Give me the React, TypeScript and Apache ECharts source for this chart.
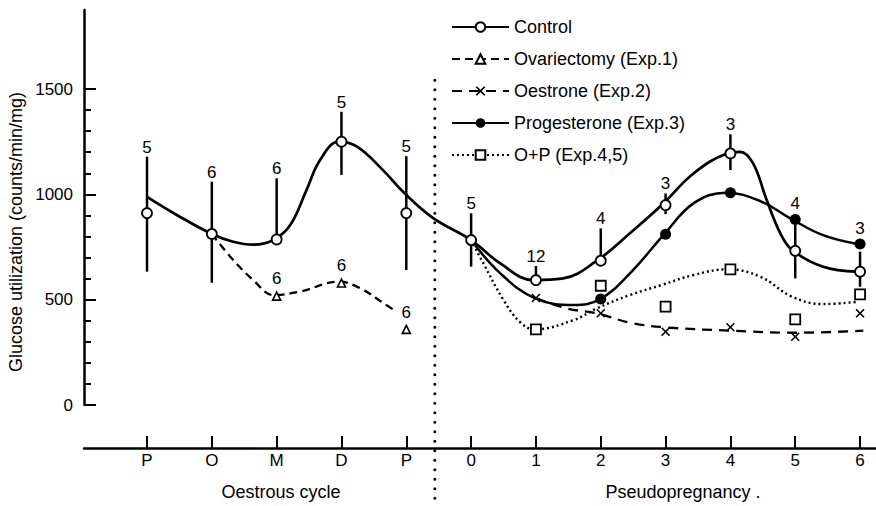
import React, { useEffect, useRef } from "react";
import * as echarts from "echarts";

const FONT = "Liberation Sans";

// Axis ticks / labels
const xTickValues = [0, 1, 2, 3, 4, 5, 6, 7, 8, 9, 10, 11];
const xTickLabels = ["P", "O", "M", "D", "P", "0", "1", "2", "3", "4", "5", "6"];
const yMajorTicks = [0, 500, 1000, 1500];
const yMinorTicks = [100, 200, 300, 400, 600, 700, 800, 900, 1100, 1200, 1300, 1400];
const groupLabels = ["Oestrous cycle", "Pseudopregnancy ."];

// Control (means, error bars, sample sizes)
const controlMean = [911, 812, 786, 1250, 911, 783, 593, 685, 949, 1194, 732, 633];
const controlLow = [633, 580, 786, 1092, 641, 657, 593, 685, 906, 1115, 601, 561];
const controlHigh = [1179, 1060, 1076, 1392, 1181, 910, 660, 838, 1004, 1285, 870, 728];
const controlN = [5, 6, 6, 5, 5, 5, 12, 4, 3, 3, 4, 3];
// hand-fitted control curve
const controlCurveX = [0, 0.46, 1, 1.33, 1.64, 1.95, 2.21, 2.46, 2.67, 2.96, 3.24, 3.64, 3.95, 4.41, 5, 5.45, 5.96, 6.42, 6.94, 7.45, 7.94, 8.43, 8.95, 9.15, 9.35, 9.56, 9.77, 9.95, 10.43, 10.95];
const controlCurveY = [988, 902, 812, 775, 761, 783, 854, 1020, 1163, 1250, 1226, 1115, 1012, 888, 783, 672, 593, 601, 685, 815, 949, 1099, 1194, 1202, 1147, 973, 815, 736, 656, 633];

// Ovariectomy (Exp.1)
const ovxX = [2, 3, 4];
const ovxMean = [517, 579, 359];
const ovxN = [6, 6, 6];
const ovxCurveX = [1, 1.33, 1.64, 1.95, 2.36, 2.96, 3.29, 3.65, 3.85];
const ovxCurveY = [812, 688, 593, 522, 538, 585, 554, 483, 443];

// Oestrone (Exp.2)
const oesX = [6, 7, 8, 9, 10, 11];
const oesMean = [508, 435, 348, 369, 324, 435];
const oesCurveX = [6, 6.47, 6.94, 7.45, 7.99, 8.99, 10.02, 11.05];
const oesCurveY = [508, 459, 435, 391, 369, 353, 343, 353];

// Progesterone (Exp.3)
const progX = [7, 8, 9, 10, 11];
const progMean = [503, 811, 1008, 881, 764];
const progCurveX = [5, 5.45, 5.99, 6.58, 6.99, 7.45, 7.98, 8.43, 8.93, 9.46, 9.95, 10.43, 10.96];
const progCurveY = [783, 625, 506, 475, 503, 625, 811, 957, 1008, 968, 881, 806, 764];

// O+P (Exp.4,5)
const opX = [6, 7, 8, 9, 10, 11];
const opMean = [359, 566, 467, 644, 406, 525];
const opCurveX = [5, 5.19, 5.5, 5.75, 5.98, 6.58, 6.94, 7.45, 7.94, 8.43, 8.95, 9.46, 9.95, 10.43, 10.96];
const opCurveY = [783, 672, 498, 395, 359, 403, 459, 522, 570, 617, 644, 609, 514, 479, 490];

// divider between oestrous cycle and pseudopregnancy
const dividerX = 4.44;
const dividerTop = 1542;

const names = ["Control", "Ovariectomy (Exp.1)", "Oestrone (Exp.2)", "Progesterone (Exp.3)", "O+P (Exp.4,5)"];

const X_SYMBOL = "path://M0,1.2L1.2,0L5,3.8L8.8,0L10,1.2L6.2,5L10,8.8L8.8,10L5,6.2L1.2,10L0,8.8L3.8,5Z";

const zip = (xs: number[], ys: number[]) => xs.map((x, i) => [x, ys[i]]);

export default function App() {
  const ref = useRef<HTMLDivElement>(null);
  useEffect(() => {
    if (!ref.current) return;
    const chart = echarts.init(ref.current, undefined, { renderer: "svg" });
    const progAt = (x: number) => {
      const i = progX.indexOf(x);
      return i >= 0 ? progMean[i] : null;
    };
    const errData = xTickValues.map((x, i) => [x, controlLow[i], controlHigh[i], controlN[i]]);

    const option: any = {
      animation: false,
      backgroundColor: "#fff",
      textStyle: { fontFamily: FONT, color: "#000" },
      grid: { left: 84, right: 0, top: 10, bottom: 101, containLabel: false },
      legend: {
        data: names,
        orient: "vertical",
        left: 451,
        top: 18,
        padding: 0,
        itemWidth: 57,
        itemHeight: 12,
        itemGap: 14,
        textStyle: { fontSize: 18, fontFamily: FONT, color: "#000" },
        selectedMode: false,
      },
      xAxis: {
        type: "value",
        min: -0.972,
        max: 11.246,
        offset: 43,
        splitLine: { show: false },
        axisLine: { show: true, onZero: false, lineStyle: { color: "#000", width: 2.5 } },
        axisTick: { show: true, inside: true, length: 12, customValues: xTickValues, lineStyle: { color: "#000", width: 2 } },
        axisLabel: {
          show: true,
          customValues: xTickValues,
          margin: 4,
          fontSize: 17,
          fontFamily: FONT,
          color: "#000",
          formatter: (v: number) => xTickLabels[Math.round(v)] ?? "",
        },
      },
      yAxis: [
        {
          type: "value",
          min: 0,
          max: 1875,
          splitLine: { show: false },
          axisLine: { show: true, onZero: false, lineStyle: { color: "#000", width: 2.5 } },
          axisTick: { show: true, inside: true, length: 12, customValues: yMajorTicks, lineStyle: { color: "#000", width: 2 } },
          axisLabel: {
            show: true,
            customValues: yMajorTicks,
            margin: 11,
            fontSize: 17,
            fontFamily: FONT,
            color: "#000",
            formatter: (v: number) => String(v),
          },
        },
        {
          type: "value",
          min: 0,
          max: 1875,
          position: "left",
          splitLine: { show: false },
          axisLine: { show: false, onZero: false },
          axisTick: { show: true, inside: true, length: 7, customValues: yMinorTicks, lineStyle: { color: "#000", width: 2 } },
          axisLabel: { show: false },
        },
      ],
      graphic: [
        {
          type: "text",
          x: 16,
          y: 232,
          rotation: Math.PI / 2,
          style: { text: "Glucose utilization (counts/min/mg)", align: "center", verticalAlign: "middle", fontSize: 18, fontFamily: FONT, fill: "#000" },
        },
        {
          type: "text",
          x: 281,
          y: 492,
          style: { text: groupLabels[0], align: "center", verticalAlign: "middle", fontSize: 18, fontFamily: FONT, fill: "#000" },
        },
        {
          type: "text",
          x: 683,
          y: 492,
          style: { text: groupLabels[1], align: "center", verticalAlign: "middle", fontSize: 18, fontFamily: FONT, fill: "#000" },
        },
      ],
      series: [
        // divider
        {
          type: "custom",
          name: "divider",
          silent: true,
          clip: false,
          data: [[dividerX, dividerTop]],
          renderItem: (params: any, api: any) => {
            const p = api.coord([api.value(0), api.value(1)]);
            return {
              type: "line",
              shape: { x1: p[0], y1: p[1], x2: p[0], y2: api.getHeight() },
              style: { stroke: "#000", lineWidth: 3, lineDash: [0.1, 9.4], lineCap: "round" },
            };
          },
          z: 1,
        },
        // control error bars + n labels
        {
          type: "custom",
          name: "errors",
          clip: false,
          data: errData,
          renderItem: (params: any, api: any) => {
            const x = api.value(0);
            const lo = api.coord([x, api.value(1)]);
            const hi = api.coord([x, api.value(2)]);
            let top = hi[1];
            const pv = progAt(x);
            if (pv != null) top = Math.min(top, api.coord([x, pv])[1] - 6);
            return {
              type: "group",
              children: [
                { type: "line", shape: { x1: lo[0], y1: lo[1], x2: hi[0], y2: hi[1] }, style: { stroke: "#000", lineWidth: 2.5 } },
                {
                  type: "text",
                  style: { text: String(api.value(3)), x: hi[0], y: top - 1, align: "center", verticalAlign: "bottom", fontSize: 17, fontFamily: FONT, fill: "#000" },
                },
              ],
            };
          },
          z: 2,
        },
        // curves
        {
          type: "line",
          name: names[0],
          data: zip(controlCurveX, controlCurveY),
          smooth: 0.4,
          showSymbol: false,
          symbol: "circle",
          itemStyle: { color: "#fff", borderColor: "#000", borderWidth: 2 },
          lineStyle: { color: "#000", width: 2.7 },
          z: 3,
        },
        {
          type: "line",
          name: names[1],
          data: zip(ovxCurveX, ovxCurveY),
          smooth: 0.4,
          showSymbol: false,
          symbol: "triangle",
          itemStyle: { color: "#fff", borderColor: "#000", borderWidth: 1.5 },
          lineStyle: { color: "#000", width: 2.3, type: [8, 5] },
          z: 3,
        },
        {
          type: "line",
          name: names[2],
          data: zip(oesCurveX, oesCurveY),
          smooth: 0.4,
          showSymbol: false,
          symbol: X_SYMBOL,
          itemStyle: { color: "#000" },
          lineStyle: { color: "#000", width: 2.3, type: [10, 7] },
          z: 3,
        },
        {
          type: "line",
          name: names[3],
          data: zip(progCurveX, progCurveY),
          smooth: 0.4,
          showSymbol: false,
          symbol: "circle",
          itemStyle: { color: "#000" },
          lineStyle: { color: "#000", width: 2.5 },
          z: 3,
        },
        {
          type: "line",
          name: names[4],
          data: zip(opCurveX, opCurveY),
          smooth: 0.4,
          showSymbol: false,
          symbol: "rect",
          itemStyle: { color: "#fff", borderColor: "#000", borderWidth: 1.8 },
          lineStyle: { color: "#000", width: 2.4, type: [2, 3] },
          z: 3,
        },
        // markers
        {
          type: "scatter",
          name: "control-pts",
          data: zip(xTickValues, controlMean),
          symbol: "circle",
          symbolSize: 10,
          itemStyle: { color: "#fff", borderColor: "#000", borderWidth: 1.8, opacity: 1 },
          z: 5,
        },
        {
          type: "scatter",
          name: "ovx-pts",
          data: zip(ovxX, ovxMean),
          symbol: "triangle",
          symbolSize: 8,
          itemStyle: { color: "#fff", borderColor: "#000", borderWidth: 1.6, opacity: 1 },
          label: {
            show: true,
            position: "top",
            distance: 4,
            fontSize: 17,
            fontFamily: FONT,
            color: "#000",
            formatter: (p: any) => String(ovxN[p.dataIndex]),
          },
          z: 5,
        },
        {
          type: "scatter",
          name: "oes-pts",
          data: zip(oesX, oesMean),
          symbol: X_SYMBOL,
          symbolSize: 9,
          itemStyle: { color: "#000", opacity: 1 },
          z: 5,
        },
        {
          type: "scatter",
          name: "prog-pts",
          data: zip(progX, progMean),
          symbol: "circle",
          symbolSize: 11,
          itemStyle: { color: "#000", opacity: 1 },
          z: 5,
        },
        {
          type: "scatter",
          name: "op-pts",
          data: zip(opX, opMean),
          symbol: "rect",
          symbolSize: 10,
          itemStyle: { color: "#fff", borderColor: "#000", borderWidth: 1.8, opacity: 1 },
          z: 5,
        },
      ],
    };
    chart.setOption(option);
    return () => chart.dispose();
  }, []);
  return <div ref={ref} style={{ position: "fixed", left: 0, top: 0, width: 876, height: 506, background: "#fff" }} />;
}
